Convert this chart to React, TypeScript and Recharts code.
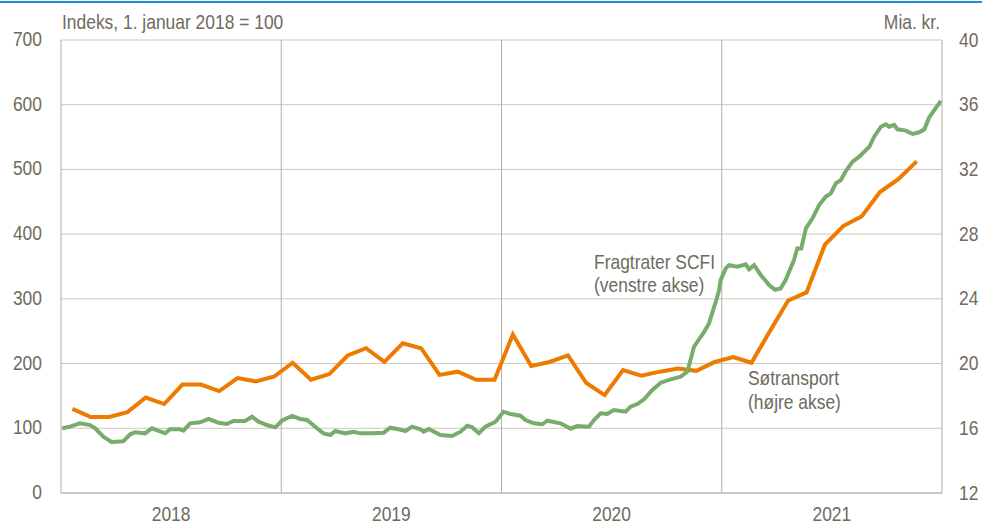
import React from 'react';
import { LineChart, Line, XAxis, YAxis, CartesianGrid, ReferenceLine } from 'recharts';

const FONT = "'Liberation Sans', Arial, sans-serif";
const FONT_SIZE = 20.5;
const SCALE_X = 0.85;
const TEXT = '#6e6b5e';
const GRID = '#cbc8be';
const AXIS = '#b3afa3';
const GREEN = '#78ac6d';
const ORANGE = '#ee7a00';

// Fragtrater SCFI (index, 1 Jan 2018 = 100), dates as decimal years
const scfiDates: number[] = [
  2018.006, 2018.041, 2018.086, 2018.132, 2018.155, 2018.192, 2018.23, 2018.283, 2018.314, 2018.336,
  2018.382, 2018.412, 2018.473, 2018.495, 2018.541, 2018.556, 2018.586, 2018.632, 2018.67, 2018.715,
  2018.753, 2018.783, 2018.836, 2018.867, 2018.897, 2018.935, 2018.973, 2019.003, 2019.018, 2019.049,
  2019.086, 2019.117, 2019.162, 2019.192, 2019.223, 2019.245, 2019.291, 2019.329, 2019.359, 2019.412,
  2019.465, 2019.495, 2019.533, 2019.564, 2019.594, 2019.632, 2019.647, 2019.67, 2019.723, 2019.776,
  2019.814, 2019.844, 2019.867, 2019.897, 2019.927, 2019.973, 2020.009, 2020.041, 2020.086, 2020.109,
  2020.147, 2020.185, 2020.208, 2020.268, 2020.314, 2020.344, 2020.397, 2020.42, 2020.45, 2020.48,
  2020.51, 2020.564, 2020.586, 2020.617, 2020.647, 2020.685, 2020.723, 2020.768, 2020.814, 2020.844,
  2020.874, 2020.92, 2020.942, 2020.973, 2020.988, 2020.995, 2021.018, 2021.033, 2021.071, 2021.109,
  2021.124, 2021.147, 2021.177, 2021.215, 2021.242, 2021.267, 2021.29, 2021.328, 2021.343, 2021.361,
  2021.382, 2021.412, 2021.442, 2021.473, 2021.495, 2021.518, 2021.541, 2021.564, 2021.594, 2021.624,
  2021.67, 2021.692, 2021.723, 2021.745, 2021.76, 2021.783, 2021.798, 2021.836, 2021.867, 2021.897,
  2021.92, 2021.942, 2021.995,
];
const scfiValues: number[] = [
  100, 102.5, 107.7, 105, 100, 87, 79, 80, 90.7, 93.8,
  92.2, 100, 92.2, 98.4, 98.4, 96.3, 107.7, 109.2, 114.4, 108.6,
  106.6, 111.3, 111.3, 117.9, 110.2, 105, 101.5, 111.7, 114.4, 119,
  114.4, 112.8, 100, 92.2, 89.6, 95.8, 92.2, 94.7, 92.2, 92.2,
  93.2, 100.9, 98.4, 95.8, 102.5, 98.4, 94.7, 98.9, 89.6, 88,
  94.7, 104, 101.5, 92.2, 102.5, 110.2, 125.6, 122, 119.5, 112.8,
  107.7, 106.2, 111.7, 107.7, 99.4, 103.5, 102.5, 112.8, 123.2, 122,
  128.3, 125.6, 133.4, 137.5, 144.8, 159.2, 170.5, 175.7, 179.7, 187.5,
  226, 249, 262, 295.6, 313.7, 329, 347, 352, 349.7, 353.4,
  345.7, 352, 336.9, 321.4, 314, 316, 329, 360, 378, 378,
  409, 424.5, 445, 458, 463, 478.6, 483.7, 498, 512, 519.7,
  535, 550.6, 566, 569.7, 566, 568.7, 562, 560, 554.8, 557.4,
  562, 580.6, 606,
];

// Søtransport (mia. kr.), monthly from January 2018
const seaMonths: string[] = [
  '2018-01', '2018-02', '2018-03', '2018-04', '2018-05', '2018-06', '2018-07', '2018-08', '2018-09', '2018-10', '2018-11', '2018-12',
  '2019-01', '2019-02', '2019-03', '2019-04', '2019-05', '2019-06', '2019-07', '2019-08', '2019-09', '2019-10', '2019-11', '2019-12',
  '2020-01', '2020-02', '2020-03', '2020-04', '2020-05', '2020-06', '2020-07', '2020-08', '2020-09', '2020-10', '2020-11', '2020-12',
  '2021-01', '2021-02', '2021-03', '2021-04', '2021-05', '2021-06', '2021-07', '2021-08', '2021-09', '2021-10', '2021-11',
];
const seaValues: number[] = [
  17.2, 16.7, 16.7, 17.0, 17.9, 17.5, 18.7, 18.7, 18.3, 19.1, 18.9, 19.2,
  20.05, 19.0, 19.35, 20.5, 20.95, 20.1, 21.25, 20.95, 19.3, 19.5, 19.0, 19.0,
  21.8, 19.85, 20.1, 20.5, 18.8, 18.05, 19.6, 19.25, 19.5, 19.7, 19.55, 20.1,
  20.4, 20.05, 22.0, 23.9, 24.4, 27.35, 28.5, 29.1, 30.6, 31.4, 32.5,
];

const yearTicks: number[] = [2018.5, 2019.5, 2020.5, 2021.5];
const yearLines: number[] = [2019, 2020, 2021];
const leftTicks: number[] = [0, 100, 200, 300, 400, 500, 600, 700];
const rightTicks: number[] = [12, 16, 20, 24, 28, 32, 36, 40];

const scfiData = scfiDates.map((t, i) => ({ t, v: scfiValues[i] }));
const seaData = seaMonths.map((m, i) => {
  const [y, mo] = m.split('-').map(Number);
  return { t: y + (mo - 1 + 0.62) / 12, v: seaValues[i] };
});

function NText({ x, y, anchor = 'start', children }: { x: number; y: number; anchor?: string; children: React.ReactNode }) {
  return (
    <text
      transform={`translate(${x},${y}) scale(${SCALE_X},1)`}
      textAnchor={anchor as any}
      fill={TEXT}
      fontSize={FONT_SIZE}
      fontFamily={FONT}
    >
      {children}
    </text>
  );
}

const XTick = (props: any) => {
  const { x, y, payload } = props;
  return <NText x={x} y={y + 20.5} anchor="middle">{String(Math.floor(payload.value))}</NText>;
};
const LeftTick = (props: any) => {
  const { x, y, payload } = props;
  return <NText x={x} y={y + 6} anchor="end">{String(payload.value)}</NText>;
};
const RightTick = (props: any) => {
  const { x, y, payload } = props;
  return <NText x={x} y={y + 6.5} anchor="start">{String(payload.value)}</NText>;
};

export default function App() {
  return (
    <div style={{ position: 'absolute', left: 0, top: 0, width: 982, height: 524, background: '#fff', fontFamily: FONT }}>
      <div style={{ position: 'absolute', left: 0, top: 1, width: 982, height: 2, background: '#1b8fd2' }} />
      <LineChart width={982} height={524} margin={{ top: 40, right: 0, bottom: 0, left: 0 }}>
        <CartesianGrid vertical={false} stroke={GRID} yAxisId="left" />
        <XAxis
          type="number"
          dataKey="t"
          domain={[2018, 2022]}
          ticks={yearTicks}
          allowDataOverflow
          height={31}
          tickLine={false}
          tickSize={6}
          tickMargin={1}
          axisLine={{ stroke: AXIS }}
          tick={<XTick />}
          interval={0}
        />
        <YAxis
          yAxisId="left"
          orientation="left"
          domain={[0, 700]}
          ticks={leftTicks}
          width={61}
          tickLine={false}
          tickSize={6}
          tickMargin={13}
          axisLine={{ stroke: AXIS }}
          tick={<LeftTick />}
          interval={0}
        />
        <YAxis
          yAxisId="right"
          orientation="right"
          domain={[12, 40]}
          ticks={rightTicks}
          width={40}
          tickLine={false}
          tickSize={6}
          tickMargin={11}
          axisLine={{ stroke: AXIS }}
          tick={<RightTick />}
          interval={0}
        />
        {yearLines.map((x) => (
          <ReferenceLine key={x} x={x} yAxisId="left" stroke={AXIS} strokeWidth={1} />
        ))}
        <Line
          data={seaData}
          dataKey="v"
          yAxisId="right"
          type="linear"
          stroke={ORANGE}
          strokeWidth={4}
          dot={false}
          isAnimationActive={false}
        />
        <Line
          data={scfiData}
          dataKey="v"
          yAxisId="left"
          type="linear"
          stroke={GREEN}
          strokeWidth={4}
          dot={false}
          isAnimationActive={false}
        />
      </LineChart>
      <svg width={982} height={524} style={{ position: 'absolute', left: 0, top: 0, pointerEvents: 'none' }}>
        <NText x={62} y={29}>Indeks, 1. januar 2018 = 100</NText>
        <NText x={940} y={29} anchor="end">Mia. kr.</NText>
        <NText x={594} y={268.5}>Fragtrater SCFI</NText>
        <NText x={594} y={292}>(venstre akse)</NText>
        <NText x={748} y={385}>Søtransport</NText>
        <NText x={748} y={408.5}>(højre akse)</NText>
      </svg>
    </div>
  );
}
